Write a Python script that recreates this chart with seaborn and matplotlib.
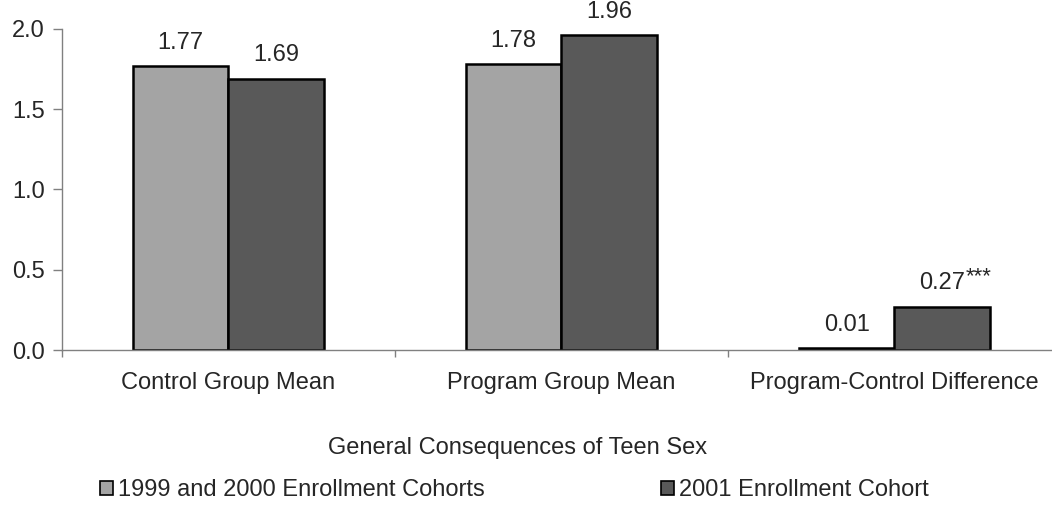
import matplotlib
matplotlib.use('Agg')
import matplotlib.pyplot as plt
import seaborn as sns
import pandas as pd
from matplotlib.patches import Patch

sns.set_style('white')
plt.rcParams['font.family'] = ['Liberation Sans', 'DejaVu Sans']

# data
categories = ['Control Group Mean', 'Program Group Mean', 'Program-Control Difference']
cohorts = ['1999 and 2000 Enrollment Cohorts', '2001 Enrollment Cohort']
values_9900 = [1.77, 1.78, 0.01]
values_2001 = [1.69, 1.96, 0.27]
stars_9900 = ['', '', '']
stars_2001 = ['', '', '***']
colors = ['#A4A4A4', '#595959']
yticks = [0, 0.5, 1.0, 1.5, 2.0]

df = pd.DataFrame({
    'category': categories * 2,
    'cohort': [cohorts[0]] * 3 + [cohorts[1]] * 3,
    'value': values_9900 + values_2001,
})

fig = plt.figure(figsize=(10.52, 5.08), dpi=100)
ax = fig.add_axes([0.0589, 0.311, 0.9496, 0.632])
sns.barplot(data=df, x='category', y='value', hue='cohort', order=categories,
            hue_order=cohorts, palette=colors, width=0.574, edgecolor='black',
            linewidth=1.8, saturation=1, ax=ax, legend=False)

ax.set_ylim(0, 2.0)
ax.set_xlim(-0.5, 2.5)
ax.set_yticks(yticks)
ax.set_yticklabels([f'{t:.1f}' for t in yticks], fontsize=17)
ax.set_xticks([0, 1, 2])
ax.set_xticklabels(categories, fontsize=17)
ax.tick_params(axis='x', which='major', length=0, pad=16)
ax.tick_params(axis='y', length=6.5, width=1, color='#808080', direction='out', left=True, pad=6)
ax.set_xticks([-0.5, 0.5, 1.5], minor=True)
ax.tick_params(axis='x', which='minor', length=5, width=1, color='#808080', direction='out', bottom=True)

for s in ['top', 'right']:
    ax.spines[s].set_visible(False)
for s in ['left', 'bottom']:
    ax.spines[s].set_color('#808080')
    ax.spines[s].set_linewidth(1)

# value labels
for container, stars in zip(ax.containers, [stars_9900, stars_2001]):
    for bar, st in zip(container, stars):
        h = bar.get_height()
        x = bar.get_x() + bar.get_width() / 2
        ax.annotate(f'{h:.2f}', (x, h), xytext=(0, 12.5), textcoords='offset points',
                    ha='center', va='baseline', fontsize=17, annotation_clip=False)
        if st:
            ax.annotate(st, (x, h), xytext=(17, 17.5), textcoords='offset points',
                        ha='left', va='baseline', fontsize=16, annotation_clip=False)

ax.set_ylabel('')
ax.set_xlabel('General Consequences of Teen Sex', fontsize=17, va='center')
ax.xaxis.set_label_coords(0.4565, -0.305)

handles = [Patch(facecolor=c, edgecolor='black', linewidth=1.2) for c in colors]
fig.legend(handles, cohorts, loc='center left', bbox_to_anchor=(0.095, 0.035), ncol=2,
           frameon=False, fontsize=17, handlelength=0.55, handleheight=0.55,
           handletextpad=0.2, columnspacing=7.5, borderpad=0, borderaxespad=0)

fig.savefig('out.png', dpi=100)
